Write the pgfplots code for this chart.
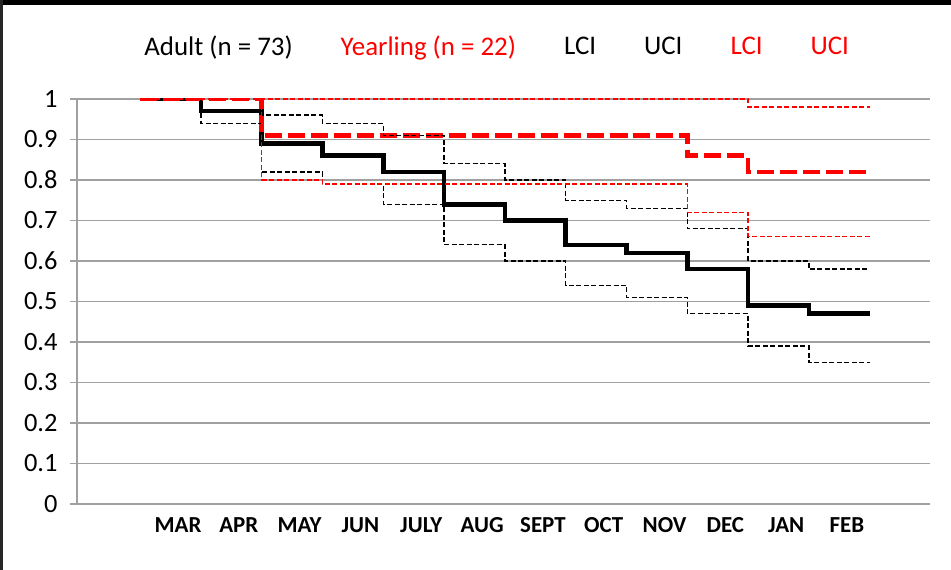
\documentclass[border=0pt]{standalone}
\usepackage{fontspec}
\setmainfont{Carlito}
\usepackage{pgfplots}
\pgfplotsset{compat=1.18}

\definecolor{gridgray}{RGB}{160,160,160}

\begin{document}
\begin{tikzpicture}
\useasboundingbox (0bp,0bp) rectangle (951bp,570bp);
\fill[white] (0bp,0bp) rectangle (951bp,570bp);
\fill[black] (0bp,565bp) rectangle (951bp,570bp);
\fill[black!85] (0bp,0bp) rectangle (2.5bp,570bp);
\begin{axis}[
  at={(77bp,66bp)}, anchor=south west,
  scale only axis,
  width=853bp, height=405bp,
  xmin=-1.036, xmax=12.99,
  ymin=0, ymax=1,
  axis x line*=bottom,
  axis y line*=left,
  axis line style={gridgray, line width=1.5bp},
  ytick={0,0.1,...,1.0},
  yticklabel style={/pgf/number format/fixed, /pgf/number format/precision=1,
    font=\fontsize{26.5}{30}\selectfont, xshift=-9bp},
  /pgf/number format/assume math mode=true,
  ymajorgrids,
  major grid style={gridgray, line width=1.5bp},
  ytick style={gridgray, line width=1.5bp},
  tick align=outside,
  major tick length=7bp,
  xtick={0.625,1.625,...,11.7},
  xticklabels={MAR,APR,MAY,JUN,JULY,AUG,SEPT,OCT,NOV,DEC,JAN,FEB},
  xtick style={draw=none},
  xticklabel style={font=\fontsize{23}{26}\selectfont\bfseries, yshift=-3bp},
  legend columns=6,
  legend image code/.code={},
  legend style={draw=none, fill=none, at={(0.492,1.13)}, anchor=center,
    font=\fontsize{27}{30}\selectfont,
    /tikz/every even column/.append style={column sep=44bp}},
]
% Adult
\addplot[const plot, black, line width=4.5bp] coordinates {
 (0,1.00) (1,0.97) (2,0.89) (3,0.86) (4,0.82) (5,0.74) (6,0.70)
 (7,0.64) (8,0.62) (9,0.58) (10,0.49) (11,0.47) (12,0.47)};
\addlegendentry{Adult (n = 73)}
% Yearling
\addplot[const plot, red, line width=4.5bp, dash pattern=on 17bp off 6bp] coordinates {
 (0,1.00) (1,1.00) (2,0.91) (3,0.91) (4,0.91) (5,0.91) (6,0.91)
 (7,0.91) (8,0.91) (9,0.86) (10,0.82) (11,0.82) (12,0.82)};
\addlegendentry{\textcolor{red}{Yearling (n = 22)}}
% Adult LCI
\addplot[const plot, black, line width=1.4bp, dash pattern=on 5bp off 2.5bp] coordinates {
 (0,1.00) (1,0.94) (2,0.82) (3,0.79) (4,0.74) (5,0.64) (6,0.60)
 (7,0.54) (8,0.51) (9,0.47) (10,0.39) (11,0.35) (12,0.35)};
\addlegendentry{LCI}
% Adult UCI
\addplot[const plot, black, line width=1.4bp, dash pattern=on 5bp off 2.5bp] coordinates {
 (0,1.00) (1,1.00) (2,0.96) (3,0.94) (4,0.91) (5,0.84) (6,0.80)
 (7,0.75) (8,0.73) (9,0.68) (10,0.60) (11,0.58) (12,0.58)};
\addlegendentry{UCI}
% Yearling LCI
\addplot[const plot, red, line width=1.4bp, dash pattern=on 5bp off 2.5bp] coordinates {
 (0,1.00) (1,1.00) (2,0.80) (3,0.79) (4,0.79) (5,0.79) (6,0.79)
 (7,0.79) (8,0.79) (9,0.72) (10,0.66) (11,0.66) (12,0.66)};
\addlegendentry{\textcolor{red}{LCI}}
% Yearling UCI
\addplot[const plot, red, line width=1.4bp, dash pattern=on 5bp off 2.5bp] coordinates {
 (0,1.00) (1,1.00) (2,1.00) (3,1.00) (4,1.00) (5,1.00) (6,1.00)
 (7,1.00) (8,1.00) (9,1.00) (10,0.98) (11,0.98) (12,0.98)};
\addlegendentry{\textcolor{red}{UCI}}
\end{axis}
\end{tikzpicture}
\end{document}
